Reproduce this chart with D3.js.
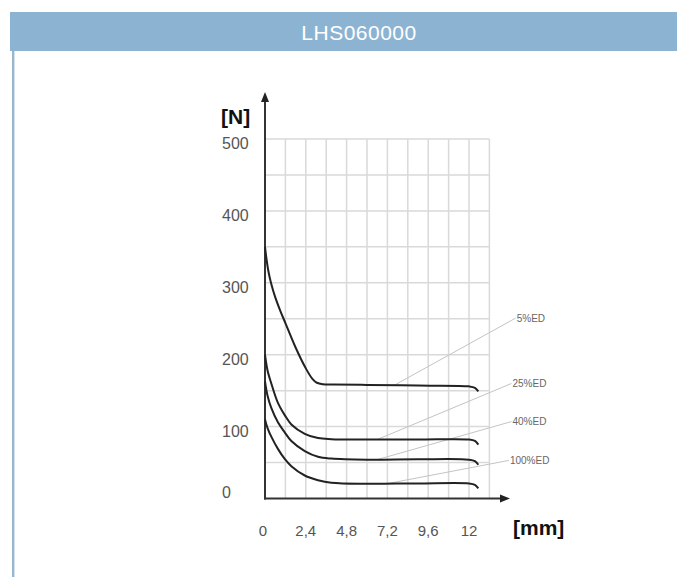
<!DOCTYPE html>
<html>
<head>
<meta charset="utf-8">
<script src="https://cdn.jsdelivr.net/npm/d3@7"></script>
<style>
html,body{margin:0;padding:0;background:#fff;}
svg{display:block;font-family:"Liberation Sans",Arial,sans-serif;}
</style>
</head>
<body>
<svg id="chart" width="677" height="577"></svg>
<script>
const title = "LHS060000";
const xTicks = [0, 2.4, 4.8, 7.2, 9.6, 12];
const xTickLabels = ["0", "2,4", "4,8", "7,2", "9,6", "12"];
const yTicks = [0, 100, 200, 300, 400, 500];
const xGrid = [1.2, 2.4, 3.6, 4.8, 6, 7.2, 8.4, 9.6, 10.8, 12, 13.2];
const yGrid = [50, 100, 150, 200, 250, 300, 350, 400, 450, 500];
const seriesNames = ["5%ED", "25%ED", "40%ED", "100%ED"];
const xs5 = [0, 0.1, 0.2, 0.35, 0.6, 0.9, 1.2, 1.8, 2.4, 2.8, 3.05, 3.4, 4, 6, 9, 12, 12.35, 12.55];
const ys5 = [350, 331, 316, 300, 280, 261, 244, 210, 181, 166, 161, 159, 158.5, 158, 157, 156, 154, 149];
const xs25 = [0, 0.15, 0.37, 0.76, 1.16, 1.55, 2.34, 3.12, 3.9, 6, 9, 12, 12.35, 12.55];
const ys25 = [200, 178, 160, 133, 116, 103, 90, 84, 82.5, 82, 82, 82, 80, 75];
const xs40 = [0, 0.15, 0.37, 0.76, 1.16, 1.55, 2.34, 3.12, 3.9, 6, 9, 12, 12.35, 12.55];
const ys40 = [163, 143, 126, 106, 92, 80, 66, 58, 55.5, 54, 54.5, 54, 52, 47];
const xs100 = [0, 0.15, 0.37, 0.76, 1.16, 1.55, 2.34, 3.12, 3.9, 6, 9, 12, 12.35, 12.55];
const ys100 = [110, 98, 86, 69, 55, 45, 32, 25.5, 22, 20.5, 21, 21, 19, 14];
// callout: anchor on curve (mm) and label position (mm, N)
const calloutAnchorX = [7.6, 6.6, 6.6, 7.2];
const calloutLabelX = [14.75, 14.5, 14.5, 14.35];
const calloutLabelY = [251, 160, 107, 53];

const svg = d3.select("#chart");

// header band
svg.append("rect").attr("x", 10).attr("y", 12).attr("width", 667).attr("height", 39).attr("fill", "#8cb4d2");
svg.append("text").attr("x", 359).attr("y", 40).attr("text-anchor", "middle")
  .attr("fill", "#fff").attr("font-size", 21).attr("letter-spacing", 0.5).text(title);
// left border
svg.append("rect").attr("x", 12).attr("y", 51).attr("width", 2).attr("height", 526).attr("fill", "#9ab6cb");
svg.append("rect").attr("x", 14).attr("y", 51).attr("width", 1).attr("height", 526).attr("fill", "#d3e2ee");

const x = d3.scaleLinear().domain([0, 13.2]).range([265, 489.4]);
const y = d3.scaleLinear().domain([0, 500]).range([498.5, 139]);

const g = svg.append("g");
// grid
g.append("g").selectAll("line").data(xGrid).join("line")
  .attr("x1", d => x(d)).attr("x2", d => x(d)).attr("y1", y(0)).attr("y2", y(500))
  .attr("stroke", "#d9d9d9").attr("stroke-width", 1.5);
g.append("g").selectAll("line").data(yGrid).join("line")
  .attr("x1", x(0)).attr("x2", x(13.2)).attr("y1", d => y(d)).attr("y2", d => y(d))
  .attr("stroke", "#d9d9d9").attr("stroke-width", 1.5);

// axes
g.append("line").attr("x1", x(0)).attr("x2", x(0)).attr("y1", y(0) + 1).attr("y2", 98)
  .attr("stroke", "#333").attr("stroke-width", 2);
g.append("path").attr("d", `M${x(0)},92 L${x(0) - 4},102 L${x(0) + 4},102 Z`).attr("fill", "#222");
g.append("line").attr("x1", x(0) - 1).attr("x2", 503).attr("y1", y(0)).attr("y2", y(0))
  .attr("stroke", "#333").attr("stroke-width", 2);
g.append("path").attr("d", `M510,${y(0)} L500,${y(0) - 4} L500,${y(0) + 4} Z`).attr("fill", "#222");

// y tick labels
g.append("g").selectAll("text").data(yTicks).join("text")
  .attr("x", 222).attr("y", d => d === 0 ? y(d) - 1 : y(d) + 10)
  .attr("fill", "#555").attr("font-size", 16).text(d => d);
// x tick labels
g.append("g").selectAll("text").data(xTicks).join("text")
  .attr("x", (d, i) => x(d) + (i === 0 ? -2 : 0)).attr("y", 536).attr("text-anchor", "middle")
  .attr("fill", "#555").attr("font-size", 15).text((d, i) => xTickLabels[i]);

// axis titles
svg.append("text").attr("x", 221).attr("y", 124).attr("font-weight", "bold").attr("font-size", 21).attr("fill", "#111").text("[N]");
svg.append("text").attr("x", 513).attr("y", 535).attr("font-weight", "bold").attr("font-size", 21).attr("fill", "#111").text("[mm]");

// curves
const series = [
  {name: seriesNames[0], xs: xs5, ys: ys5},
  {name: seriesNames[1], xs: xs25, ys: ys25},
  {name: seriesNames[2], xs: xs40, ys: ys40},
  {name: seriesNames[3], xs: xs100, ys: ys100}
];
const line = d3.line().x(d => x(d[0])).y(d => y(d[1])).curve(d3.curveCatmullRom.alpha(0.5));

// callouts (drawn under curves)
series.forEach((s, i) => {
  const ax = calloutAnchorX[i];
  const k = d3.bisectRight(s.xs, ax) - 1;
  const t = (ax - s.xs[k]) / (s.xs[k + 1] - s.xs[k]);
  const ay = s.ys[k] + t * (s.ys[k + 1] - s.ys[k]);
  g.append("line").attr("x1", x(ax)).attr("y1", y(ay))
    .attr("x2", x(calloutLabelX[i])).attr("y2", y(calloutLabelY[i]))
    .attr("stroke", "#c4c4c4").attr("stroke-width", 1);
  g.append("text").attr("x", x(calloutLabelX[i]) + 1).attr("y", y(calloutLabelY[i]) + 3.5)
    .attr("font-size", 10).attr("fill", "#666").text(s.name);
});

series.forEach(s => {
  g.append("path").datum(s.xs.map((v, i) => [v, s.ys[i]]))
    .attr("d", line).attr("fill", "none").attr("stroke", "#222").attr("stroke-width", 2);
});
</script>
</body>
</html>
